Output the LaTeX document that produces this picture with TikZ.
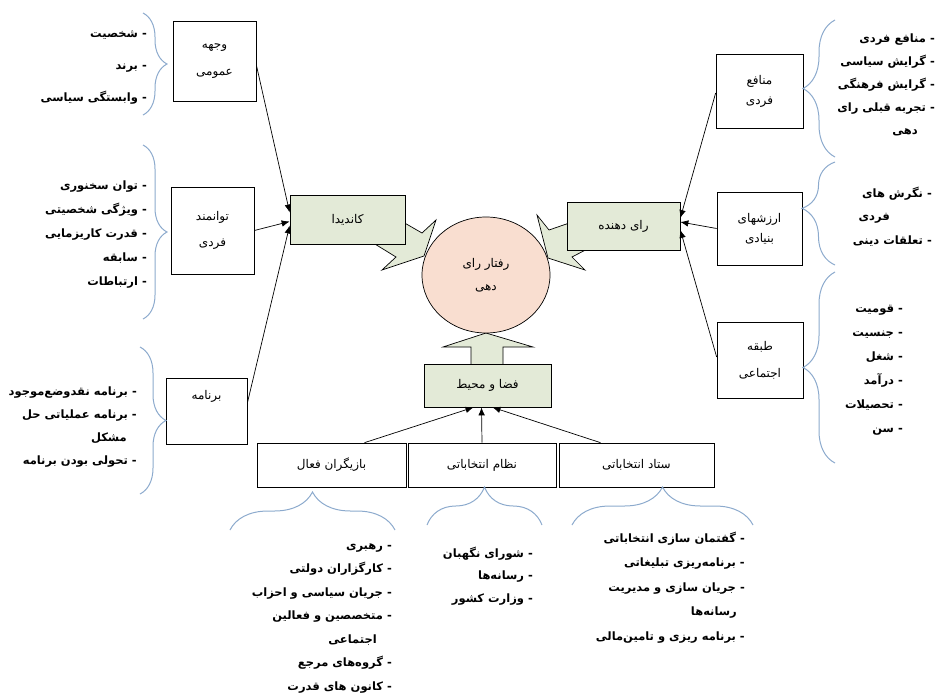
\documentclass[tikz,border=0pt]{standalone}
\usepackage{fontspec}
\usepackage{tikz}
\usetikzlibrary{shapes.geometric,arrows.meta,decorations.pathreplacing}
\TeXXeTstate=1
\newfontfamily\fa[Script=Arabic]{DejaVu Sans}
\definecolor{sabz}{RGB}{227,234,215}
\definecolor{holu}{RGB}{249,222,208}
\definecolor{abi}{RGB}{140,170,205}
\newcommand{\rtl}[1]{\beginR #1\endR}

\begin{document}
\begin{tikzpicture}[x=1pt,y=-1pt,
					every node/.style={font=\fa},
					jabe/.style={draw, line width=0.7pt, fill=white, inner sep=0pt, align=center,
						font=\fa\fontsize{12}{#1}\selectfont},
					jabe/.default=24,
					sabzjabe/.style={jabe, fill=sabz},
					fehrest/.style={inner sep=0pt, align=right, anchor=base east,
						font=\fa\bfseries\fontsize{11.5}{#1}\selectfont},
					akulad/.style={draw=abi, line width=1pt, decorate,
						decoration={brace, amplitude=#1}},
					peykan/.style={line width=0.7pt, -{Latex[length=8pt,width=6.5pt]}},
					boloki/.style={draw, line width=0.7pt, fill=sabz}]
	\useasboundingbox (0,0) rectangle (940,694);
	\filldraw[boloki] (396,218) -- (422,233) -- (436,220) -- (424,256) -- (382,270) -- (396,257) -- (370,241) -- cycle;
	\filldraw[boloki] (578,220) -- (549,230) -- (537,215) -- (548,258) -- (585,270) -- (572,257) -- (595,245) -- cycle;
	\filldraw[boloki] (471,366) -- (471,347) -- (443,347) -- (486,333) -- (533,347) -- (503,347) -- (503,366) -- cycle;

	\node[jabe=27, minimum width=83pt, minimum height=80pt] (vajhe) at (214.5,61) {\rtl{وجهه}\\\rtl{عمومی}};
	\node[jabe=26, minimum width=83pt, minimum height=87pt] (tavan) at (212.5,230.5) {\rtl{توانمند}\\\rtl{فردی}};
	\node[jabe, minimum width=81pt, minimum height=66pt] (barname) at (206.5,411) {\rtl{برنامه}\\\strut};
	\node[sabzjabe, minimum width=115pt, minimum height=49pt] (kandida) at (347.5,219.5) {\rtl{کاندیدا}};
	\node[sabzjabe, minimum width=113pt, minimum height=48pt] (raydahande) at (623.5,226) {\rtl{رای دهنده}};
	\node[jabe=23, ellipse, fill=holu, minimum width=128pt, minimum height=116pt] (raftar) at (486,275) {\rtl{رفتار رای}\\\rtl{دهی}};
	\node[sabzjabe, minimum width=127pt, minimum height=43pt] (faza) at (487.5,385.5) {\rtl{فضا و محیط}};
	\node[jabe=20, minimum width=87pt, minimum height=74pt] (manafe) at (759.5,91) {\rtl{منافع}\\\rtl{فردی}};
	\node[jabe=20, minimum width=85pt, minimum height=73pt] (arzesh) at (759.5,228.5) {\rtl{ارزشهای}\\\rtl{بنیادی}};
	\node[jabe=27, minimum width=86pt, minimum height=76pt] (tabaqe) at (760,360) {\rtl{طبقه}\\\rtl{اجتماعی}};
	\node[jabe, minimum width=149pt, minimum height=44pt] (bazigar) at (331.5,465) {\rtl{بازیگران فعال}};
	\node[jabe, minimum width=148pt, minimum height=44pt] (nezam) at (482,465) {\rtl{نظام انتخاباتی}};
	\node[jabe, minimum width=155pt, minimum height=44pt] (setad) at (636.5,465) {\rtl{ستاد انتخاباتی}};

	\draw[peykan] ([yshift=-4pt]vajhe.east) -- ([yshift=7pt]kandida.west);
	\draw[peykan] (tavan.east) -- ([yshift=-2pt]kandida.west);
	\draw[peykan] ([yshift=8pt]barname.east) -- ([yshift=-6pt]kandida.west);
	\draw[peykan] ([yshift=-2pt]manafe.west) -- ([yshift=8pt]raydahande.east);
	\draw[peykan] (arzesh.west) -- ([yshift=4pt]raydahande.east);
	\draw[peykan] ([yshift=3pt]tabaqe.west) -- ([yshift=-4pt]raydahande.east);
	\draw[peykan] ([xshift=33pt]bazigar.north) -- ([xshift=-14pt]faza.south);
	\draw[peykan] (nezam.north) -- ([xshift=-6pt]faza.south);
	\draw[peykan] ([xshift=-36pt]setad.north) -- ([xshift=5pt]faza.south);

	\draw[akulad=24] (143,13) -- (143,115);
	\draw[akulad=24] (143,145) -- (143,319);
	\draw[akulad=26] (140,347) -- (140,494);
	\draw[akulad=32] (835,157) -- (835,20);
	\draw[akulad=33, decoration={aspect=0.55}] (835,265) -- (835,162);
	\draw[akulad=32] (835,463) -- (835,272);
	\draw[akulad=38] (230,530) -- (395,530);
	\draw[akulad=38] (427,525) -- (542,525);
	\draw[akulad=38] (572,525) -- (753,525);

	\node[fehrest=32] (listVajhe) at (147,101) {\rtl{- شخصیت}\\\rtl{- برند}\\\rtl{- وابستگی سیاسی}};
	\node[fehrest=24] (listTavan) at (147,285) {\rtl{- توان سخنوری}\\\rtl{- ویژگی شخصیتی}\\\rtl{- قدرت کاریزمایی}\\\rtl{- سابقه}\\\rtl{- ارتباطات}};
	\node[fehrest=23] (listBarname) at (137,464) {\rtl{- برنامه نقدوضع‌موجود}\\\rtl{- برنامه عملیاتی حل}\\\rtl{مشکل}\kern10pt\\\rtl{- تحولی بودن برنامه}};
	\node[fehrest=23] (listManafe) at (935,134) {\rtl{- منافع فردی}\\\rtl{- گرایش سیاسی}\\\rtl{- گرایش فرهنگی}\\\rtl{- تجربه قبلی رای}\\\rtl{دهی}\kern17pt};
	\node[fehrest=23.5] (listArzesh) at (932,244) {\rtl{- نگرش های}\\\rtl{فردی}\kern42pt\\\rtl{- تعلقات دینی}};
	\node[fehrest=24] (listTabaqe) at (903,432) {\rtl{- قومیت}\\\rtl{- جنسیت}\\\rtl{- شغل}\\\rtl{- درآمد}\\\rtl{- تحصیلات}\\\rtl{- سن}};
	\node[fehrest=23.5] (listBazigar) at (392,690) {\rtl{- رهبری}\\\rtl{- کارگزاران دولتی}\\\rtl{- جریان سیاسی و احزاب}\\\rtl{- متخصصین و فعالین}\\\rtl{اجتماعی}\kern15pt\\\rtl{- گروه‌های مرجع}\\\rtl{- کانون های قدرت}};
	\node[fehrest=22.5] (listNezam) at (533,602) {\rtl{- شورای نگهبان}\\\rtl{- رسانه‌ها}\\\rtl{- وزارت کشور}};
	\node[fehrest=24.5] (listSetad) at (745,640) {\rtl{- گفتمان سازی انتخاباتی}\\\rtl{- برنامه‌ریزی تبلیغاتی}\\\rtl{- جریان سازی و مدیریت}\\\rtl{رسانه‌ها}\kern8pt\\\rtl{- برنامه ریزی و تامین‌مالی}};
\end{tikzpicture}
\end{document}
